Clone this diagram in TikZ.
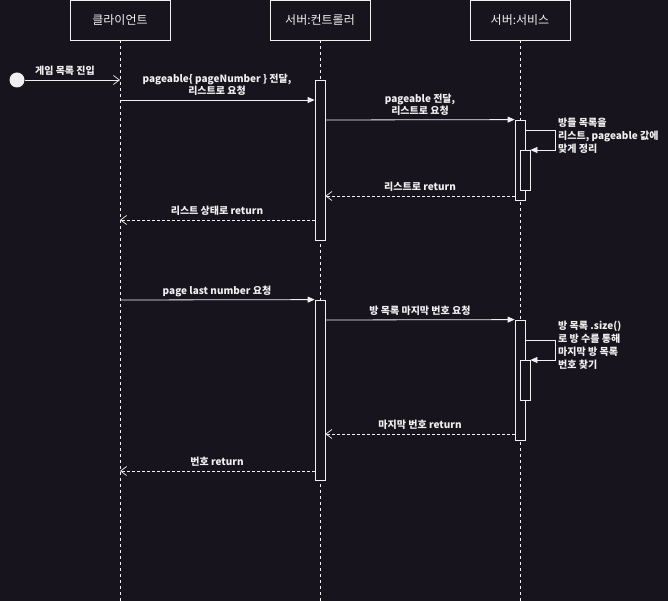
\documentclass[tikz,border=0pt]{standalone}
\usepackage{fontspec}
\setmainfont{Noto Sans CJK KR}
\usetikzlibrary{arrows.meta}
\definecolor{bg}{HTML}{18141D}
\definecolor{fg}{HTML}{F0F0F0}
\tikzset{
  px/.style={x=1pt,y=-1pt},
  header/.style={draw=fg,line width=0.8pt,minimum width=100pt,minimum height=40pt,inner sep=0pt,text=fg,font=\fontsize{12}{14}\selectfont},
  lifeline/.style={draw=fg,line width=0.6pt,dash pattern=on 3pt off 3pt},
  actbox/.style={draw=fg,fill=bg,line width=0.8pt},
  msg/.style={draw=fg,line width=0.8pt,-{Triangle[length=7pt,width=6pt,fill=fg]}},
  ret/.style={draw=fg,line width=0.7pt,dash pattern=on 3pt off 2pt,-{Straight Barb[length=6pt,width=9pt,line width=0.7pt]}},
  start/.style={draw=fg,line width=0.8pt,-{Straight Barb[length=6pt,width=9pt,line width=0.7pt]}},
  lbl/.style={text=fg,font=\bfseries\fontsize{10}{12}\selectfont,align=center,inner sep=0pt},
  lbll/.style={text=fg,font=\bfseries\fontsize{10}{13}\selectfont,align=left,inner sep=0pt,anchor=north west},
}
\begin{document}
\begin{tikzpicture}[px]
\fill[bg] (0,0) rectangle (668,601);
\useasboundingbox (0,0) rectangle (668,601);
% headers
\node[header] (h1) at (120,20) {클라이언트};
\node[header] (h2) at (320,20) {서버:컨트롤러};
\node[header] (h3) at (520,20) {서버:서비스};
\coordinate (e1) at (120,601);
\coordinate (e2) at (320,601);
\coordinate (e3) at (520,601);
\draw[lifeline] (h1.south) -- (e1);
\draw[lifeline] (h2.south) -- (e2);
\draw[lifeline] (h3.south) -- (e3);
% activations block 1
\node[actbox,minimum width=10pt,minimum height=160pt,inner sep=0pt] (a1) at (320,160) {};
\node[actbox,minimum width=10pt,minimum height=80pt,inner sep=0pt] (s1) at (520,160) {};
\node[actbox,minimum width=10pt,minimum height=40pt,inner sep=0pt] (i1) at (525,170) {};
% activations block 2
\node[actbox,minimum width=10pt,minimum height=180pt,inner sep=0pt] (a2) at (320,390) {};
\node[actbox,minimum width=10pt,minimum height=120pt,inner sep=0pt] (s2) at (520,380) {};
\node[actbox,minimum width=10pt,minimum height=40pt,inner sep=0pt] (i2) at (525,380) {};
% start
\node[circle,fill=fg,minimum size=15pt,inner sep=0pt] (st) at (17,80) {};
\coordinate (l1a) at (120,80);
\draw[start] (st.east) -- (l1a);
\node[lbl] (t0) at (65,71) {게임 목록 진입};
% message 1
\coordinate (m1s) at (120,100);
\draw[msg] (m1s) -- (a1.west |- m1s);
\node[lbl] (t1) at (217,85) {pageable\{ pageNumber \} 전달,\\리스트로 요청};
% message 2
\coordinate (m2s) at (325,120);
\draw[msg] (m2s) -- (s1.north west);
\node[lbl] (t2) at (420,105) {pageable 전달,\\리스트로 요청};
% self 1
\coordinate (sc1a) at (525,130);
\coordinate (sc1b) at (555,130);
\coordinate (sc1c) at (555,150);
\draw[msg] (sc1a) -- (sc1b) -- (sc1c) -- (i1.north east |- sc1c);
\node[lbll] (t3) at (558,118) {방들 목록을\\리스트, pageable 값에\\맞게 정리};
% return 1
\coordinate (r1s) at (515,196);
\draw[ret] (r1s) -- (a1.east |- r1s);
\node[lbl] (t4) at (420,187) {리스트로 return};
% return 2
\coordinate (r2s) at (315,220);
\coordinate (r2e) at (120,220);
\draw[ret] (r2s) -- (r2e);
\node[lbl] (t5) at (217,211) {리스트 상태로 return};
% message 3
\coordinate (m3s) at (120,300);
\draw[msg] (m3s) -- (a2.north west);
\node[lbl] (t6) at (217,291) {page last number 요청};
% message 4
\coordinate (m4s) at (325,320);
\draw[msg] (m4s) -- (s2.north west);
\node[lbl] (t7) at (420,311) {방 목록 마지막 번호 요청};
% self 2
\coordinate (sc2a) at (525,340);
\coordinate (sc2b) at (555,340);
\coordinate (sc2c) at (555,360);
\draw[msg] (sc2a) -- (sc2b) -- (sc2c) -- (i2.north east |- sc2c);
\node[lbll] (t8) at (558,321) {방 목록 .size()\\로 방 수를 통해\\마지막 방 목록\\번호 찾기};
% return 3
\coordinate (r3s) at (515,434);
\draw[ret] (r3s) -- (a2.east |- r3s);
\node[lbl] (t9) at (420,425) {마지막 번호 return};
% return 4
\coordinate (r4s) at (315,471);
\coordinate (r4e) at (120,471);
\draw[ret] (r4s) -- (r4e);
\node[lbl] (t10) at (217,462) {번호 return};
\end{tikzpicture}
\end{document}
